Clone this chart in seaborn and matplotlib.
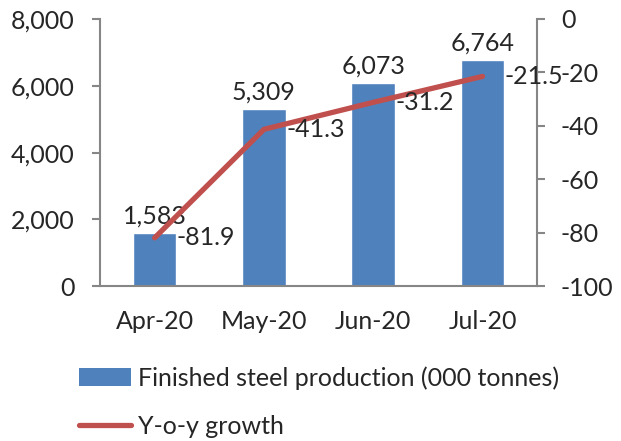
import pandas as pd
import matplotlib
matplotlib.use("Agg")
import matplotlib.pyplot as plt
import seaborn as sns
from matplotlib.lines import Line2D
from matplotlib.patches import Patch
from matplotlib.ticker import FuncFormatter

# data
months = ["Apr-20", "May-20", "Jun-20", "Jul-20"]
production = [1583, 5309, 6073, 6764]
yoy_growth = [-81.9, -41.3, -31.2, -21.5]

df = pd.DataFrame({"month": months, "production": production, "growth": yoy_growth,
                   "pos": range(len(months))})

sns.set_style("white")
plt.rcParams["font.family"] = ["Lato", "DejaVu Sans"]
plt.rcParams["font.size"] = 18
plt.rcParams["axes.unicode_minus"] = False

bar_color = "#4F81BD"
line_color = "#C0504D"
spine_color = "#868686"
fs = 18

fig = plt.figure(figsize=(6.21, 4.41), dpi=100)
ax = fig.add_axes([0.161, 0.351, 0.704, 0.606])

sns.barplot(data=df, x="month", y="production", color=bar_color, width=0.4,
            saturation=1, ax=ax)
ax.set_ylim(0, 8000)
ax.set_xlim(-0.5, 3.5)
ax.set_yticks([0, 2000, 4000, 6000, 8000])
ax.yaxis.set_major_formatter(FuncFormatter(lambda v, p: f"{int(v):,}"))
ax.set_xlabel("")
ax.set_ylabel("")

for i, v in enumerate(production):
    ax.annotate(f"{v:,}", (i, v), xytext=(0, 4), textcoords="offset points",
                ha="center", va="bottom", fontsize=fs)

ax2 = ax.twinx()
sns.lineplot(data=df, x="pos", y="growth", color=line_color, linewidth=3.8,
             solid_capstyle="round", ax=ax2)
ax2.set_ylim(-100, 0)
ax2.set_yticks([-100, -80, -60, -40, -20, 0])
ax2.set_xlim(-0.5, 3.5)
ax2.set_ylabel("")
ax2.set_xlabel("")

for i, v in enumerate(yoy_growth):
    ax2.annotate(f"{v}", (i, v), xytext=(16, 0), textcoords="offset points",
                 ha="left", va="center", fontsize=fs)

# axes styling, Excel look
for a in (ax, ax2):
    for s in a.spines.values():
        s.set_visible(False)
ax.spines["left"].set_visible(True)
ax.spines["bottom"].set_visible(True)
ax2.spines["right"].set_visible(True)
for s in (ax.spines["left"], ax.spines["bottom"], ax2.spines["right"]):
    s.set_color(spine_color)
    s.set_linewidth(1.5)

ax.tick_params(axis="y", length=6, width=1.5, color=spine_color, pad=12, labelsize=fs)
ax2.tick_params(axis="y", length=6, width=1.5, color=spine_color, pad=11, labelsize=fs)
ax.tick_params(axis="x", which="major", length=0, pad=17, labelsize=fs)
ax.set_xticks([-0.5, 0.5, 1.5, 2.5, 3.5], minor=True)
ax.tick_params(axis="x", which="minor", length=6, width=1.5, color=spine_color)

handles = [Patch(facecolor=bar_color, edgecolor="none"),
           Line2D([0], [0], color=line_color, linewidth=3.8, solid_capstyle="round")]
labels = ["Finished steel production (000 tonnes)", "Y-o-y growth"]
fig.legend(handles, labels, loc="upper left", bbox_to_anchor=(0.127, 0.17),
           frameon=False, fontsize=fs, handlelength=2.1, handletextpad=0.25,
           labelspacing=1.0, borderaxespad=0, borderpad=0)

fig.savefig("out.png", dpi=100)
